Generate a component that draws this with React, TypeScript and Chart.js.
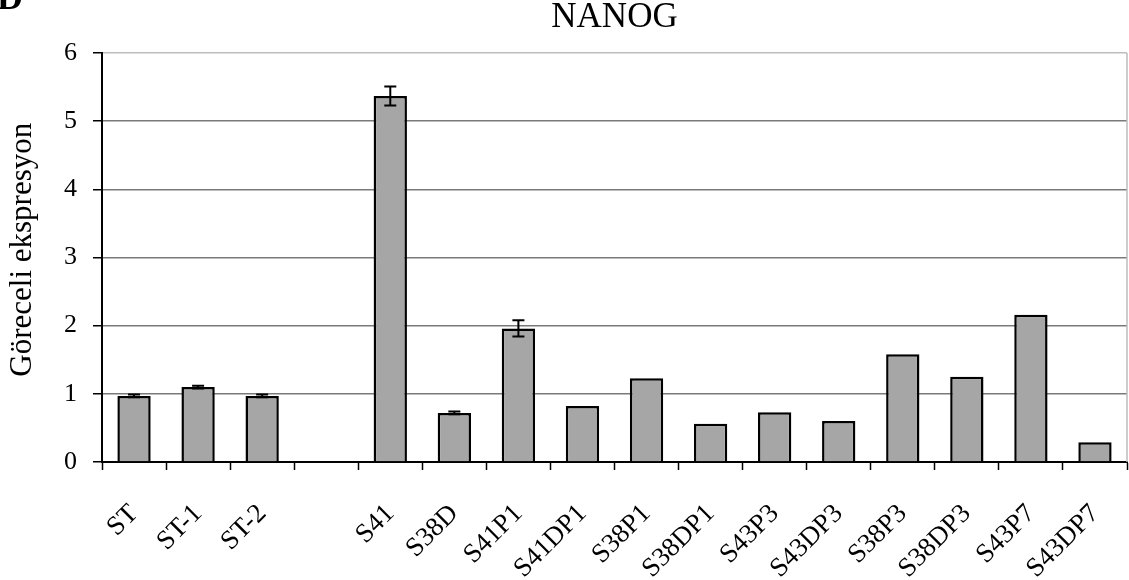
import React, { useEffect, useRef } from 'react';
import { Chart, registerables } from 'chart.js';
Chart.register(...registerables);

const categories = ['ST', 'ST-1', 'ST-2', '', 'S41', 'S38D', 'S41P1', 'S41DP1', 'S38P1', 'S38DP1', 'S43P3', 'S43DP3', 'S38P3', 'S38DP3', 'S43P7', 'S43DP7'];
const values = [0.97, 1.1, 0.97, null, 5.37, 0.72, 1.96, 0.82, 1.23, 0.56, 0.73, 0.6, 1.58, 1.25, 2.16, 0.29];
const errors = [0.02, 0.02, 0.02, null, 0.14, 0.02, 0.12, null, null, null, null, null, null, null, null, null];
const yTicks = [0, 1, 2, 3, 4, 5, 6];
const chartTitle = 'NANOG';
const yTitle = '  Göreceli ekspresyon';
const panelLetter = 'D';

const FONT = "'Liberation Serif', 'Times New Roman', serif";

const errorBarPlugin = {
  id: 'errorBars',
  afterDatasetsDraw(chart: any) {
    const meta = chart.getDatasetMeta(0);
    const y = chart.scales.y;
    const ctx = chart.ctx;
    ctx.save();
    ctx.strokeStyle = '#000';
    ctx.lineWidth = 2;
    values.forEach((v, i) => {
      const e = errors[i];
      if (v == null || e == null) return;
      const el = meta.data[i];
      const x = el.x;
      const yt = y.getPixelForValue(v + e);
      const yb = y.getPixelForValue(v - e);
      ctx.beginPath();
      ctx.moveTo(x, yt);
      ctx.lineTo(x, yb);
      ctx.moveTo(x - 6, yt);
      ctx.lineTo(x + 6, yt);
      ctx.moveTo(x - 6, yb);
      ctx.lineTo(x + 6, yb);
      ctx.stroke();
    });
    ctx.restore();
  },
};

const framePlugin = {
  id: 'frame',
  afterDraw(chart: any) {
    const { ctx, chartArea } = chart;
    ctx.save();
    ctx.strokeStyle = '#bdbdbd';
    ctx.lineWidth = 1.5;
    ctx.beginPath();
    ctx.moveTo(chartArea.right, chartArea.top);
    ctx.lineTo(chartArea.right, chartArea.bottom);
    ctx.stroke();
    ctx.fillStyle = '#000';
    ctx.font = `bold 36px ${FONT}`;
    ctx.textBaseline = 'alphabetic';
    ctx.textAlign = 'left';
    ctx.fillText(panelLetter, -3, 9);
    ctx.restore();
  },
};

export default function App() {
  const ref = useRef<HTMLCanvasElement>(null);
  useEffect(() => {
    if (!ref.current) return;
    const chart = new Chart(ref.current, {
      type: 'bar',
      data: {
        labels: categories,
        datasets: [
          {
            data: values,
            backgroundColor: '#a6a6a6',
            borderColor: '#000',
            borderWidth: 2.5,
            barPercentage: 0.52,
            categoryPercentage: 1,
          },
        ],
      },
      options: {
        responsive: false,
        animation: false,
        layout: { padding: { top: 0, right: 2, left: 0, bottom: 0 } },
        plugins: {
          legend: { display: false },
          tooltip: { enabled: false },
          title: {
            display: true,
            text: chartTitle,
            fullSize: false,
            color: '#000',
            font: { family: FONT, size: 35, weight: 'normal', lineHeight: 1.0 },
            padding: { top: 0, bottom: 18 },
          },
        },
        scales: {
          x: {
            grid: {
              display: true,
              drawOnChartArea: false,
              drawTicks: true,
              tickLength: 8,
              tickColor: '#000',
              tickWidth: 1.5,
              offset: true,
            },
            border: { display: true, color: '#000', width: 2 },
            ticks: {
              autoSkip: false,
              minRotation: 45,
              maxRotation: 45,
              color: '#000',
              padding: 28,
              font: { family: FONT, size: 27 },
            },
            afterFit(scale: any) {
              scale.height = 118;
              scale.paddingRight = 0;
              scale.paddingLeft = 0;
            },
          },
          y: {
            min: 0,
            max: 6,
            afterBuildTicks(scale: any) {
              scale.ticks = yTicks.map((v) => ({ value: v }));
            },
            grid: {
              color: (c: any) => (c.tick && c.tick.value === 6 ? '#bdbdbd' : '#7a7a7a'),
              lineWidth: 1.5,
              tickLength: 9,
              tickColor: '#000',
              tickWidth: 1.5,
            },
            border: { display: true, color: '#000', width: 2 },
            ticks: {
              color: '#000',
              padding: 16,
              font: { family: FONT, size: 26 },
            },
            title: {
              display: true,
              text: yTitle,
              color: '#000',
              font: { family: FONT, size: 31, lineHeight: 1.2 },
              padding: { top: 4, bottom: 0 },
            },
            afterFit(scale: any) {
              scale.width = 102;
            },
          },
        },
      },
      plugins: [errorBarPlugin, framePlugin],
    } as any);
    return () => chart.destroy();
  }, []);
  return (
    <div style={{ position: 'fixed', left: 0, top: 0, width: 1129, height: 580, background: '#fff' }}>
      <canvas ref={ref} width={1129} height={580} style={{ display: 'block', width: 1129, height: 580 }} />
    </div>
  );
}
